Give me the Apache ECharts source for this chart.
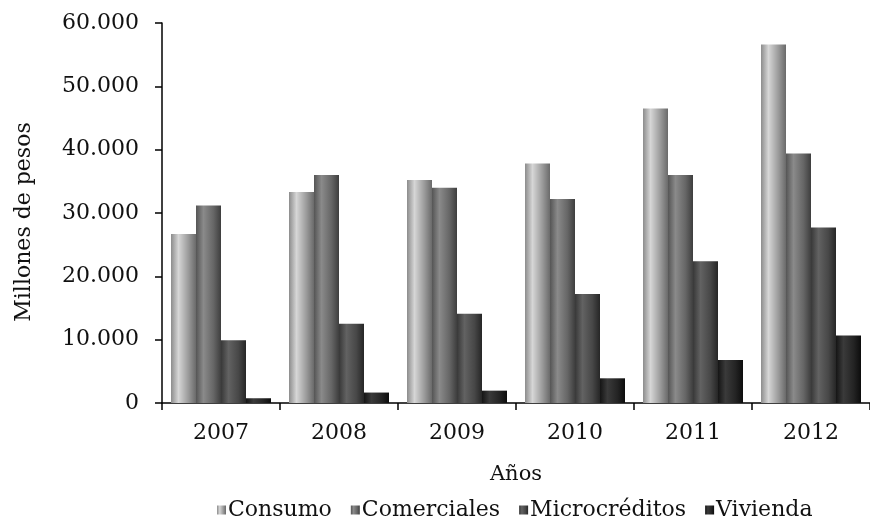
<!DOCTYPE html>
<html>
<head>
<meta charset="utf-8">
<script src="https://cdn.jsdelivr.net/npm/echarts@6/dist/echarts.min.js"></script>
<style>
html,body{margin:0;padding:0;background:#fff;}
#chart{width:870px;height:525px;}
</style>
</head>
<body>
<div id="chart"></div>
<script>
const categories = ['2007','2008','2009','2010','2011','2012'];
const consumo = [26700, 33300, 35200, 37800, 46500, 56600];
const comerciales = [31200, 36000, 34000, 32200, 36000, 39400];
const microcreditos = [9900, 12500, 14100, 17200, 22400, 27700];
const vivienda = [750, 1650, 1950, 3900, 6800, 10650];
const seriesNames = ['Consumo','Comerciales','Microcréditos','Vivienda'];
const yTicks = [0, 10000, 20000, 30000, 40000, 50000, 60000];

const FONT = 'DejaVu Serif';
function grad(a, b, c, d) {
  return new echarts.graphic.LinearGradient(0, 0, 1, 0, [
    {offset: 0, color: a},
    {offset: 0.3, color: b},
    {offset: 0.7, color: c},
    {offset: 1, color: d}
  ]);
}
const colors = [
  grad('#8c8c8c', '#d6d6d6', '#9a9a9a', '#6a6a6a'),
  grad('#555555', '#8a8a8a', '#666666', '#3e3e3e'),
  grad('#383838', '#626262', '#474747', '#262626'),
  grad('#151515', '#3a3a3a', '#242424', '#0c0c0c')
];
const dataSets = [consumo, comerciales, microcreditos, vivienda];

const chart = echarts.init(document.getElementById('chart'));
chart.setOption({
  backgroundColor: '#ffffff',
  animation: false,
  textStyle: {fontFamily: FONT, color: '#111'},
  grid: {left: 162, right: -6, top: 23, bottom: 122, containLabel: false},
  legend: {
    data: seriesNames,
    top: 494,
    left: 212,
    icon: 'rect',
    itemWidth: 9,
    itemHeight: 9,
    itemGap: 19,
    textStyle: {fontFamily: FONT, fontSize: 22, color: '#111', padding: [0, 0, 0, -3]}
  },
  xAxis: {
    type: 'category',
    data: categories,
    name: 'Años',
    nameLocation: 'middle',
    nameGap: 61,
    nameTextStyle: {fontFamily: FONT, fontSize: 21, color: '#111'},
    axisLine: {lineStyle: {color: '#000', width: 1.5}},
    axisTick: {show: true, length: 7, lineStyle: {color: '#000', width: 1.5}},
    axisLabel: {fontFamily: FONT, fontSize: 22, color: '#111', margin: 19}
  },
  yAxis: {
    type: 'value',
    min: 0,
    max: 60000,
    interval: 10000,
    name: 'Millones de pesos',
    nameLocation: 'middle',
    nameGap: 127,
    nameTextStyle: {fontFamily: FONT, fontSize: 22, color: '#111', padding: [0, 18, 0, 0]},
    axisLine: {show: true, lineStyle: {color: '#000', width: 1.5}},
    axisTick: {show: true, length: 7, lineStyle: {color: '#000', width: 1.5}},
    splitLine: {show: false},
    axisLabel: {
      fontFamily: FONT, fontSize: 22, color: '#111', margin: 23,
      formatter: function (v) {
        return yTicks.indexOf(v) >= 0 ? v.toLocaleString('de-DE') : '';
      }
    }
  },
  series: seriesNames.map(function (n, i) {
    return {
      name: n,
      type: 'bar',
      data: dataSets[i],
      barWidth: 25,
      barGap: '0%',
      itemStyle: {color: colors[i]}
    };
  })
});
</script>
</body>
</html>
